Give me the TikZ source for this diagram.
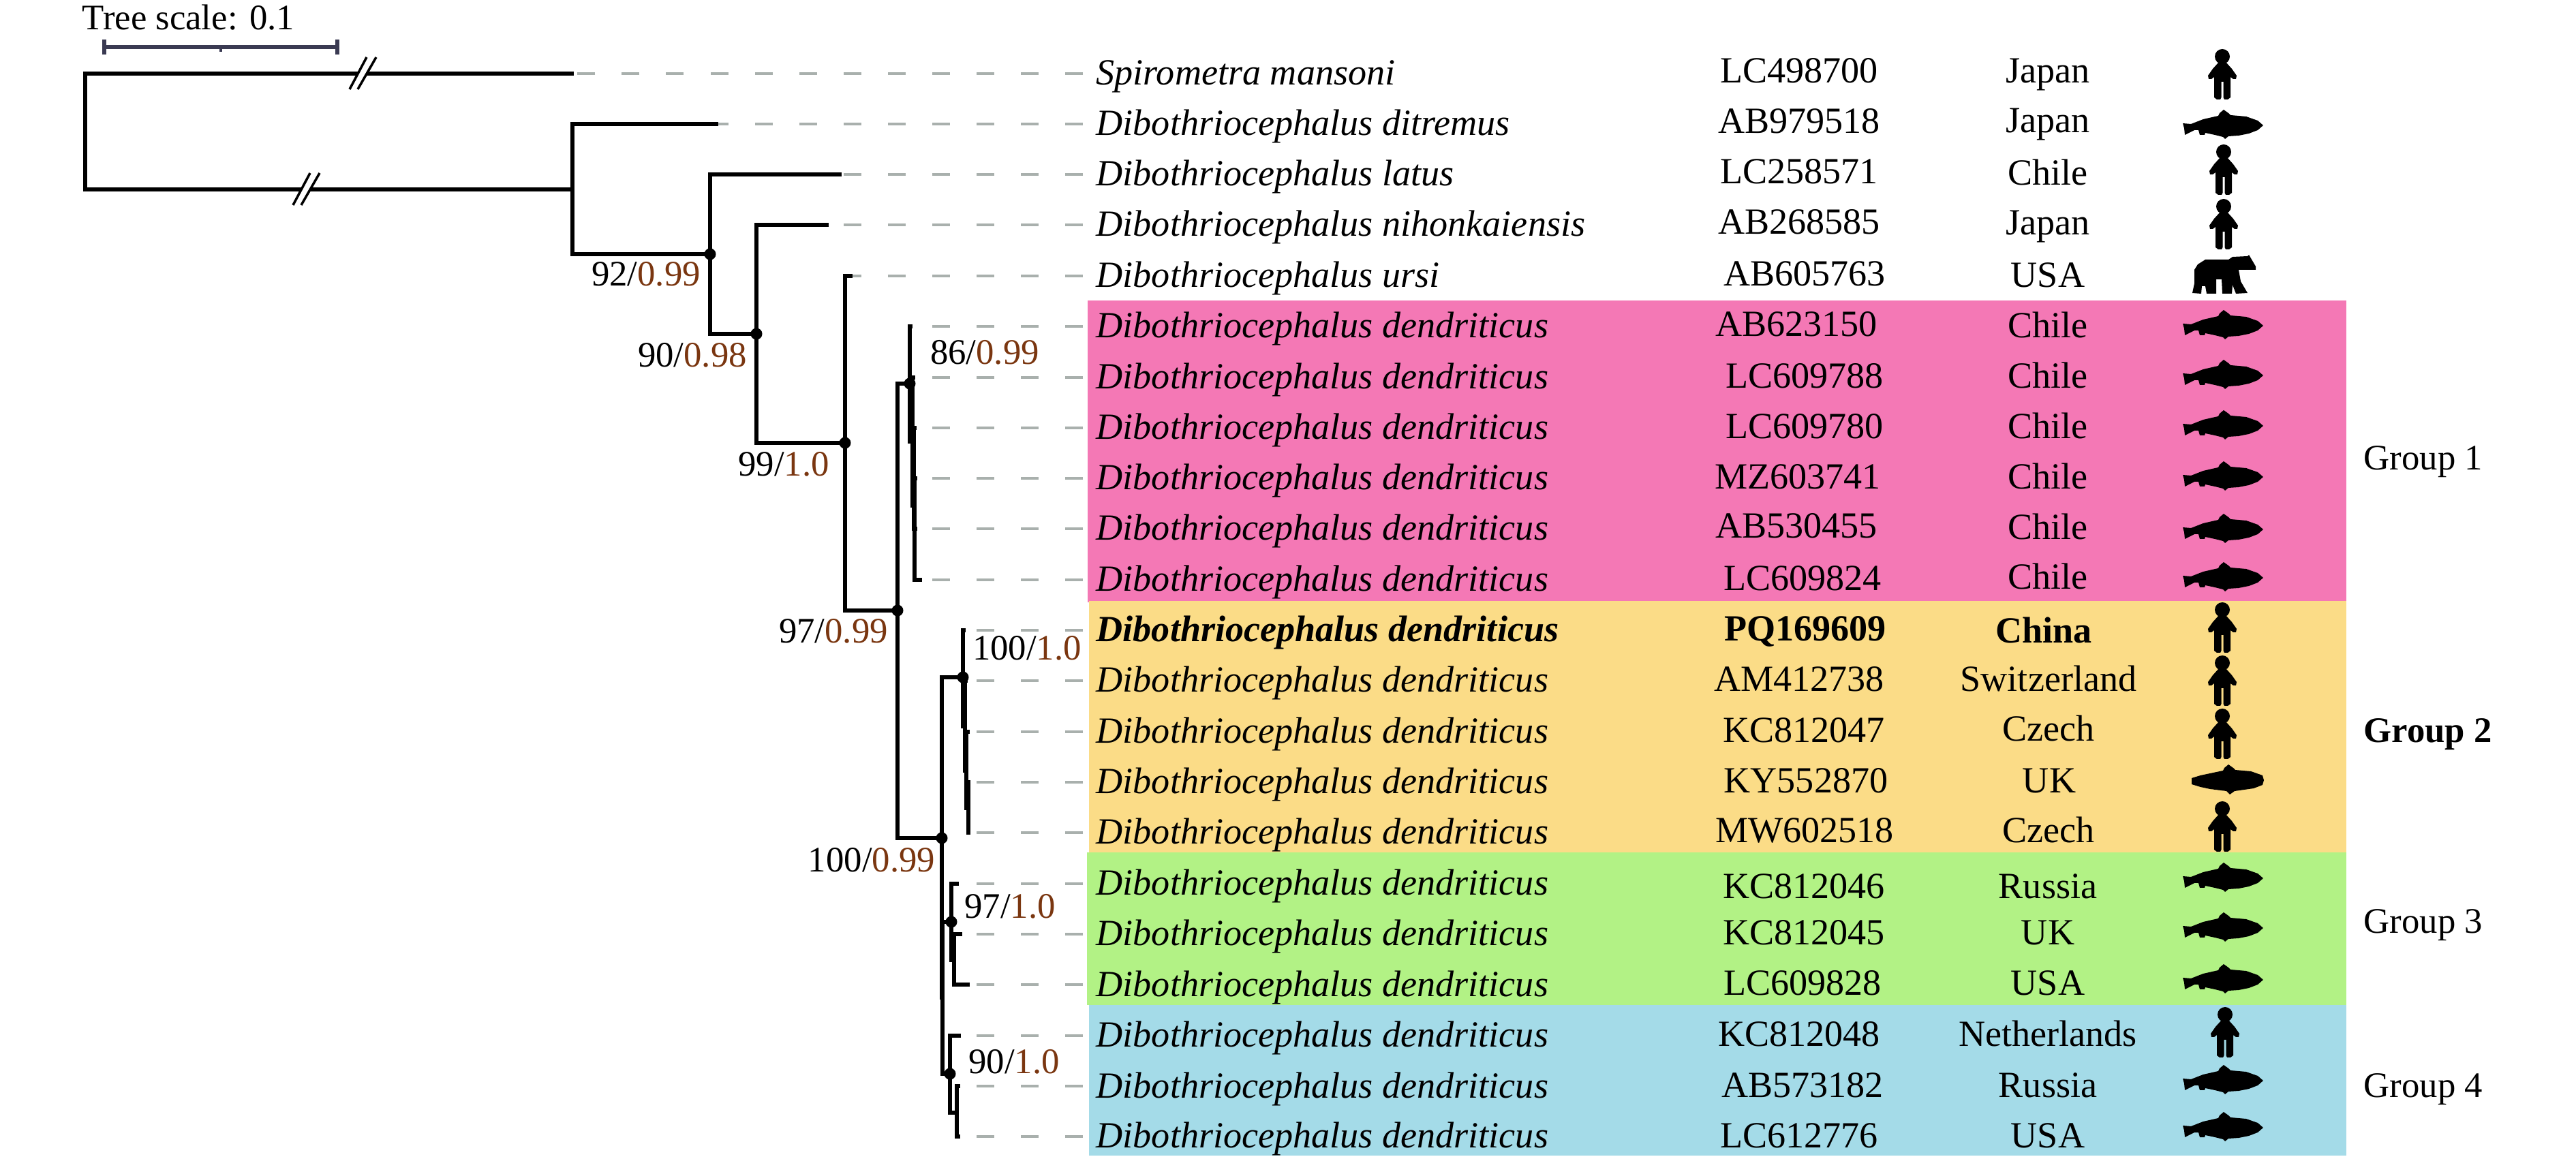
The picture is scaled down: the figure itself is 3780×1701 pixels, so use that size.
\documentclass[tikz,border=0pt]{standalone}
\usepackage{fontspec}
\setmainfont{Liberation Serif}
\usetikzlibrary{positioning}
\definecolor{brn}{HTML}{7A3610}
\definecolor{ldr}{HTML}{A9B0AD}
\definecolor{bar}{HTML}{3A3A52}
\definecolor{grpa}{HTML}{F478B5}
\definecolor{grpb}{HTML}{FBDC87}
\definecolor{grpc}{HTML}{B2F285}
\definecolor{grpd}{HTML}{A4DBE8}
\tikzstyle{branch} = [draw, black, line width=1.5pt]
\tikzstyle{leader} = [draw, ldr, line width=1.3pt, dash pattern=on 7.4pt off 11.1pt]
\tikzstyle{dot} = [circle, fill=black, inner sep=0pt, minimum size=0.17cm]
\tikzstyle{taxon} = [anchor=base west, inner sep=0pt, font=\fontsize{15.4}{18}\selectfont\itshape]
\tikzstyle{taxonb} = [taxon, font=\fontsize{15.4}{18}\selectfont\itshape\bfseries]
\tikzstyle{acc} = [anchor=base, inner sep=0pt, font=\fontsize{15.4}{18}\selectfont]
\tikzstyle{accb} = [acc, font=\fontsize{15.4}{18}\selectfont\bfseries]
\tikzstyle{supp} = [anchor=base, inner sep=0pt, font=\fontsize{15}{18}\selectfont]
\tikzset{
  pics/person/.style={code={
    \fill [yscale=-1] (0,27) circle (11);
    \fill [yscale=-1] (-5,19) -- (-14,9) -- (-21,-1) -- (-20,-6) -- (-16,-6) -- (-12,-3) -- (-12,-33) -- (-8,-36) -- (-3,-36) -- (-1.5,-33) -- (-1.5,-10) -- (1.5,-10) -- (1.5,-33) -- (3,-36) -- (8,-36) -- (12,-33) -- (12,-3) -- (16,-6) -- (20,-6) -- (21,-1) -- (14,9) -- (5,19) -- cycle;
  }},
  pics/fish/.style={code={
    \fill [yscale=-1] (-59,2) -- (-47,1) -- (-29,8) -- (-7,13) -- (-5,17) -- (1,22) -- (8,17) -- (11,14) -- (34,12) -- (51,6) -- (59,-1) -- (51,-8) -- (38,-13) -- (23,-16) -- (8,-17) -- (3,-21) -- (0,-18) -- (-12,-15) -- (-26,-12) -- (-27,-15) -- (-34,-15) -- (-36,-8) -- (-42,-8) -- (-56,-15) -- (-57,-5) -- cycle;
  }},
  pics/fishcut/.style={code={
    \fill [yscale=-1] (-53,2) -- (-40,6) -- (-7,13) -- (-5,17) -- (1,22) -- (8,17) -- (11,14) -- (34,12) -- (51,6) -- (53,-1) -- (51,-8) -- (38,-13) -- (10,-17) -- (3,-22) -- (-2,-17) -- (-26,-14) -- (-40,-11) -- (-53,-7) -- cycle;
  }},
  pics/bear/.style={code={
    \fill [yscale=-1] (-27,22) -- (7,22) -- (13,26) -- (35,27) -- (37,29) -- (47,12) -- (47,7) -- (22,7) -- (25,-10) -- (35,-27) -- (18,-28) -- (13,-15) -- (12,-28) -- (-2,-28) -- (-3,-7) -- (-11,-7) -- (-11,-28) -- (-25,-28) -- (-27,-17) -- (-32,-17) -- (-33,-28) -- (-46,-27) -- (-43,-13) -- (-43,7) -- (-38,15) -- cycle;
  }},
  pics/brk/.style={code={
    \fill [white] (-19,23) -- (6,-24) -- (20,-24) -- (-7,23) -- cycle;
    \draw [line width=1pt] (-19,23) -- (6,-24);
    \draw [line width=1pt] (-7,23) -- (20,-24);
  }}
}

\begin{document}
\begin{tikzpicture}[x=0.01cm, y=-0.01cm]
\useasboundingbox (0,0) rectangle (3780,1701);

\fill [grpa] (1596,441) rectangle (3443,884);
\fill [grpb] (1598,882) rectangle (3443,1251);
\fill [grpc] (1595,1251) rectangle (3443,1475);
\fill [grpd] (1598,1475) rectangle (3443,1696);

\coordinate (t0) at (842,108);
\coordinate (t1) at (1054,182);
\coordinate (t2) at (1235,256);
\coordinate (t3) at (1216,330);
\coordinate (t4) at (1251,405);
\coordinate (t5) at (1339,479);
\coordinate (t6) at (1343,554);
\coordinate (t7) at (1345,628);
\coordinate (t8) at (1346,702);
\coordinate (t9) at (1346,776);
\coordinate (t10) at (1353,851);
\coordinate (t11) at (1417,925);
\coordinate (t12) at (1420,999);
\coordinate (t13) at (1423,1074);
\coordinate (t14) at (1424,1148);
\coordinate (t15) at (1424,1222);
\coordinate (t16) at (1407,1297);
\coordinate (t17) at (1412,1371);
\coordinate (t18) at (1423,1445);
\coordinate (t19) at (1410,1520);
\coordinate (t20) at (1409,1594);
\coordinate (t21) at (1409,1668);

\coordinate (n0) at (125,193);
\coordinate (n1) at (840,278);
\coordinate (n2) at (1042,373);
\coordinate (n3) at (1110,490);
\coordinate (n4) at (1240,650);
\coordinate (n5) at (1317,896);
\coordinate (n6) at (1335,563);
\coordinate (n6a) at (1339,648);
\coordinate (n6b) at (1341,742);
\coordinate (n6c) at (1342,776);
\coordinate (n7) at (1382,1230);
\coordinate (n8) at (1413,994);
\coordinate (n8a) at (1416,1066);
\coordinate (n8b) at (1418,1131);
\coordinate (n8c) at (1421,1186);
\coordinate (n10) at (1383,1464);
\coordinate (n11) at (1396,1353);
\coordinate (n11a) at (1400,1409);
\coordinate (n12) at (1394,1576);
\coordinate (n12a) at (1404,1633);

\foreach \i/\y in {0/108,1/182,2/256,3/330,4/405,5/479,6/554,7/628,8/702,9/776,10/851,11/925,12/999,13/1074,14/1148,15/1222,16/1297,17/1371,18/1445,19/1520,20/1594,21/1668}
  \draw [leader] (1589,\y) coordinate (e\i) -- (t\i);

\draw [branch] (t0) -| (n0) |- (n1);
\draw [branch] (t1) -| (n1) |- (n2);
\draw [branch] (t2) -| (n2) |- (n3);
\draw [branch] (t3) -| (n3) |- (n4);
\draw [branch] (t4) -| (n4) |- (n5);
\draw [branch] (n6) -| (n5) |- (n7);
\draw [branch] (t5) -| (n6) |- (n6a);
\draw [branch] (t6) -| (n6a) |- (n6b);
\draw [branch] (t7) -| (n6b) |- (n6c);
\draw [branch] (t8) -| (n6c) |- (t10);
\draw [branch] (n6c) -- (t9);
\draw [branch] (n8) -| (n7) |- (n10);
\draw [branch] (t11) -| (n8) |- (n8a);
\draw [branch] (t12) -| (n8a) |- (n8b);
\draw [branch] (t13) -| (n8b) |- (n8c);
\draw [branch] (t14) -| (n8c) |- (t15);
\draw [branch] (n11) -| (n10) |- (n12);
\draw [branch] (t16) -| (n11) |- (n11a);
\draw [branch] (t17) -| (n11a) |- (t18);
\draw [branch] (t19) -| (n12) |- (n12a);
\draw [branch] (t20) -| (n12a) |- (t21);

\foreach \p in {n2,n3,n4,n5,n6,n7,n8,n11,n12}
  \node [dot] at (\p) {};

\pic at (532,108) {brk};
\pic at (449,278) {brk};

\coordinate (sb0) at (153,69);
\coordinate (sb1) at (495,69);
\coordinate (sb2) at (324,69);
\draw [bar, line width=1.8pt] (sb0) -- (sb1);
\draw [bar, line width=1.6pt] (sb0) ++(0,-11) -- ++(0,22);
\draw [bar, line width=1.6pt] (sb1) ++(0,-11) -- ++(0,22);
\draw [bar, line width=1pt] (sb2) -- ++(0,7);
\node [supp, anchor=base west] (scale) at (120,44) {Tree scale: 0.1};

\node [supp] (s2) at (948,420) {92/\textcolor{brn}{0.99}};
\node [supp] (s3) at (1016,539) {90/\textcolor{brn}{0.98}};
\node [supp] (s4) at (1150,699) {99/\textcolor{brn}{1.0}};
\node [supp] (s6) at (1445,535) {86/\textcolor{brn}{0.99}};
\node [supp] (s5) at (1223,944) {97/\textcolor{brn}{0.99}};
\node [supp] (s8) at (1507,969) {100/\textcolor{brn}{1.0}};
\node [supp] (s7) at (1279,1280) {100/\textcolor{brn}{0.99}};
\node [supp] (s11) at (1482,1348) {97/\textcolor{brn}{1.0}};
\node [supp] (s12) at (1488,1576) {90/\textcolor{brn}{1.0}};

\node [taxon] (tx0) at (1608,125) {Spirometra mansoni};
\node [taxon] (tx1) at (1608,199) {Dibothriocephalus ditremus};
\node [taxon] (tx2) at (1608,273) {Dibothriocephalus latus};
\node [taxon] (tx3) at (1608,347) {Dibothriocephalus nihonkaiensis};
\node [taxon] (tx4) at (1608,422) {Dibothriocephalus ursi};
\node [taxon] (tx5) at (1608,496) {Dibothriocephalus dendriticus};
\node [taxon] (tx6) at (1608,571) {Dibothriocephalus dendriticus};
\node [taxon] (tx7) at (1608,645) {Dibothriocephalus dendriticus};
\node [taxon] (tx8) at (1608,719) {Dibothriocephalus dendriticus};
\node [taxon] (tx9) at (1608,793) {Dibothriocephalus dendriticus};
\node [taxon] (tx10) at (1608,868) {Dibothriocephalus dendriticus};
\node [taxonb] (tx11) at (1608,942) {Dibothriocephalus dendriticus};
\node [taxon] (tx12) at (1608,1016) {Dibothriocephalus dendriticus};
\node [taxon] (tx13) at (1608,1091) {Dibothriocephalus dendriticus};
\node [taxon] (tx14) at (1608,1165) {Dibothriocephalus dendriticus};
\node [taxon] (tx15) at (1608,1239) {Dibothriocephalus dendriticus};
\node [taxon] (tx16) at (1608,1314) {Dibothriocephalus dendriticus};
\node [taxon] (tx17) at (1608,1388) {Dibothriocephalus dendriticus};
\node [taxon] (tx18) at (1608,1462) {Dibothriocephalus dendriticus};
\node [taxon] (tx19) at (1608,1537) {Dibothriocephalus dendriticus};
\node [taxon] (tx20) at (1608,1611) {Dibothriocephalus dendriticus};
\node [taxon] (tx21) at (1608,1685) {Dibothriocephalus dendriticus};

\node [acc] (ac0) at (2640,122) {LC498700};
\node [acc] (ac1) at (2640,196) {AB979518};
\node [acc] (ac2) at (2640,270) {LC258571};
\node [acc] (ac3) at (2640,344) {AB268585};
\node [acc] (ac4) at (2648,420) {AB605763};
\node [acc] (ac5) at (2636,494) {AB623150};
\node [acc] (ac6) at (2648,570) {LC609788};
\node [acc] (ac7) at (2648,644) {LC609780};
\node [acc] (ac8) at (2638,718) {MZ603741};
\node [acc] (ac9) at (2636,790) {AB530455};
\node [acc] (ac10) at (2645,867) {LC609824};
\node [accb] (ac11) at (2649,941) {PQ169609};
\node [acc] (ac12) at (2640,1015) {AM412738};
\node [acc] (ac13) at (2647,1090) {KC812047};
\node [acc] (ac14) at (2650,1164) {KY552870};
\node [acc] (ac15) at (2648,1237) {MW602518};
\node [acc] (ac16) at (2647,1319) {KC812046};
\node [acc] (ac17) at (2647,1387) {KC812045};
\node [acc] (ac18) at (2645,1461) {LC609828};
\node [acc] (ac19) at (2640,1536) {KC812048};
\node [acc] (ac20) at (2645,1610) {AB573182};
\node [acc] (ac21) at (2640,1684) {LC612776};

\node [acc] (co0) at (3005,122) {Japan};
\node [acc] (co1) at (3005,195) {Japan};
\node [acc] (co2) at (3005,272) {Chile};
\node [acc] (co3) at (3005,345) {Japan};
\node [acc] (co4) at (3005,422) {USA};
\node [acc] (co5) at (3005,496) {Chile};
\node [acc] (co6) at (3005,570) {Chile};
\node [acc] (co7) at (3005,644) {Chile};
\node [acc] (co8) at (3005,718) {Chile};
\node [acc] (co9) at (3005,792) {Chile};
\node [acc] (co10) at (3005,865) {Chile};
\node [accb] (co11) at (2999,944) {China};
\node [acc] (co12) at (3006,1015) {Switzerland};
\node [acc] (co13) at (3006,1088) {Czech};
\node [acc] (co14) at (3007,1164) {UK};
\node [acc] (co15) at (3006,1237) {Czech};
\node [acc] (co16) at (3005,1319) {Russia};
\node [acc] (co17) at (3005,1387) {UK};
\node [acc] (co18) at (3005,1461) {USA};
\node [acc] (co19) at (3005,1536) {Netherlands};
\node [acc] (co20) at (3005,1610) {Russia};
\node [acc] (co21) at (3005,1684) {USA};

\pic at (3261,110) {person};
\pic at (3262,183) {fish};
\pic at (3263,250) {person};
\pic at (3263,330) {person};
\pic at (3263,403) {bear};
\pic at (3262,477) {fish};
\pic at (3262,550) {fish};
\pic at (3262,624) {fish};
\pic at (3262,699) {fish};
\pic at (3262,776) {fish};
\pic at (3262,847) {fish};
\pic at (3261,922) {person};
\pic at (3261,1000) {person};
\pic at (3261,1078) {person};
\pic at (3269,1144) {fishcut};
\pic at (3261,1214) {person};
\pic at (3262,1288) {fish};
\pic at (3262,1361) {fish};
\pic at (3262,1437) {fish};
\pic at (3265,1516) {person};
\pic at (3262,1585) {fish};
\pic at (3262,1654) {fish};

\node [supp, anchor=base west] (g1) at (3468,690) {Group 1};
\node [supp, anchor=base west, font=\fontsize{15}{18}\selectfont\bfseries] (g2) at (3468,1090) {Group 2};
\node [supp, anchor=base west] (g3) at (3468,1370) {Group 3};
\node [supp, anchor=base west] (g4) at (3468,1610) {Group 4};
\end{tikzpicture}
\end{document}
